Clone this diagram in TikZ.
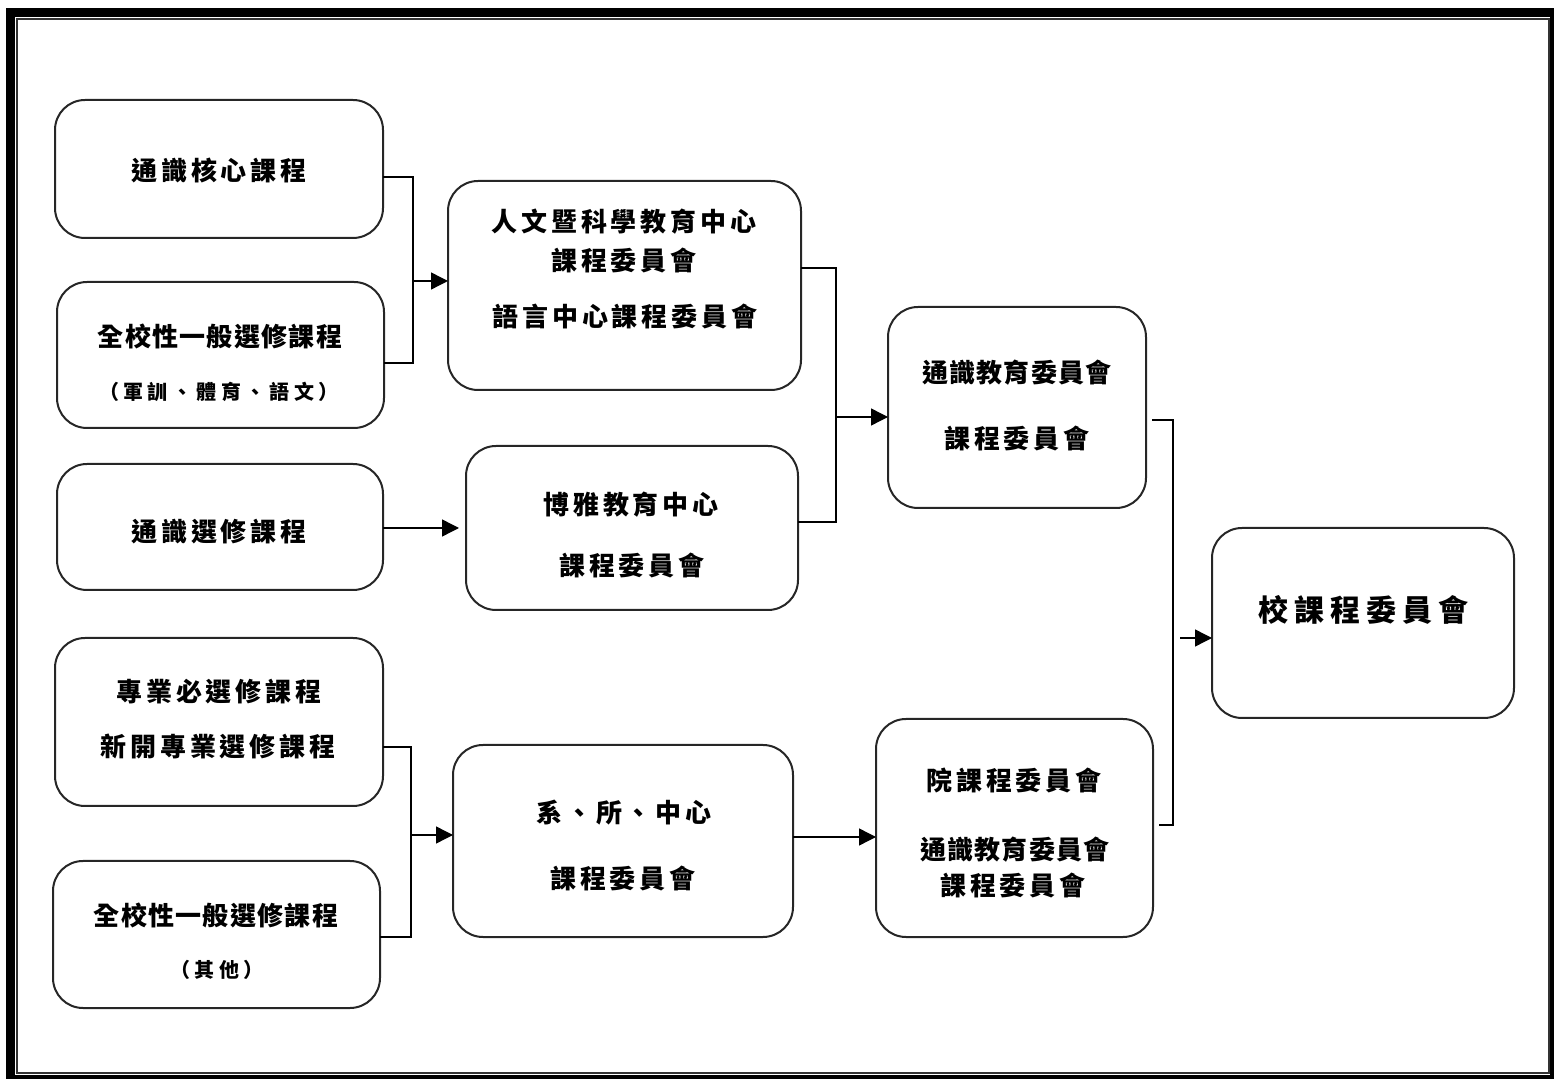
\documentclass[tikz,border=0pt]{standalone}
\usepackage{fontspec}
\newfontfamily\cjk{Noto Sans CJK TC}
\usetikzlibrary{arrows.meta}
\tikzset{
  box/.style={draw=black!85, line width=1pt, rounded corners=15pt, inner sep=0pt, outer sep=0pt},
  txt/.style={inner sep=0pt, font=\cjk\bfseries\fontsize{13}{15}\selectfont\addfontfeature{LetterSpace=15}},
  txtn/.style={inner sep=0pt, font=\cjk\bfseries\fontsize{13}{15}\selectfont\addfontfeature{LetterSpace=5}},
  txts/.style={inner sep=0pt, font=\cjk\bfseries\fontsize{10}{12}\selectfont\addfontfeature{LetterSpace=22}},
  txtb/.style={inner sep=0pt, font=\cjk\bfseries\fontsize{15}{18}\selectfont\addfontfeature{LetterSpace=20}},
  conn/.style={draw=black, line width=0.7pt},
  arr/.style={conn, -{Triangle[length=8.5pt,width=8.5pt]}}
}
\begin{document}
\begin{tikzpicture}[x=0.5pt,y=-0.5pt]
\useasboundingbox (0,0) rectangle (1554,1079);
% frame
\draw[line width=4.5pt] (10.5,13) rectangle (1554.5,1079.5);
\draw[line width=1pt, black!80] (17,19.5) rectangle (1549,1073);
% boxes
\node[box, minimum width=164pt, minimum height=69pt] (A) at (219,169) {};
\node[box, minimum width=163.5pt, minimum height=73pt] (B) at (220.5,355) {};
\node[box, minimum width=163pt, minimum height=63pt] (C) at (220,527) {};
\node[box, minimum width=164pt, minimum height=84pt] (D) at (219,722) {};
\node[box, minimum width=163.5pt, minimum height=73.5pt] (E) at (216.5,934.5) {};
\node[box, minimum width=176.5pt, minimum height=104.5pt] (F) at (624.5,285.5) {};
\node[box, minimum width=166pt, minimum height=82pt] (G) at (632,528) {};
\node[box, minimum width=170pt, minimum height=96pt] (H) at (623,841) {};
\node[box, minimum width=129pt, minimum height=100.5pt] (I) at (1017,407.5) {};
\node[box, minimum width=138.5pt, minimum height=109pt] (J) at (1014.5,828) {};
\node[box, minimum width=151pt, minimum height=95pt] (K) at (1363,623) {};
% texts
\node[txt] (tA1) at (219,170) {通識核心課程};
\node[txtn] (tB1) at (220,336) {全校性一般選修課程};
\node[txts] (tB2) at (219,392) {（軍訓、體育、語文）};
\node[txt] (tC1) at (219,532) {通識選修課程};
\node[txt] (tD1) at (219,692) {專業必選修課程};
\node[txt] (tD2) at (218,746) {新開專業選修課程};
\node[txtn] (tE1) at (216,915) {全校性一般選修課程};
\node[txts] (tE2) at (217,970) {（其他）};
\node[txt] (tF1) at (624,222) {人文暨科學教育中心};
\node[txt] (tF2) at (624,261) {課程委員會};
\node[txt] (tF3) at (625,317) {語言中心課程委員會};
\node[txt] (tG1) at (631,505) {博雅教育中心};
\node[txt] (tG2) at (632,566) {課程委員會};
\node[txt] (tH1) at (624,813) {系、所、中心};
\node[txt] (tH2) at (623,879) {課程委員會};
\node[txtn] (tI1) at (1017,373) {通識教育委員會};
\node[txt] (tI2) at (1017,439) {課程委員會};
\node[txt] (tJ1) at (1014,780) {院課程委員會};
\node[txtn] (tJ2) at (1015,850) {通識教育委員會};
\node[txt] (tJ3) at (1013,886) {課程委員會};
\node[txtb] (tK1) at (1363,610) {校課程委員會};
% junctions
\coordinate (xAB) at (413,281);
\coordinate (xFG) at (836,417);
\coordinate (xDE) at (411,835);
\coordinate (xIJ) at (1173,638);
% connectors
\draw[conn] ([yshift=-4pt]A.east) -| (xAB) |- ([yshift=-4pt]B.east);
\draw[arr] (xAB) -- (xAB -| F.west);
\draw[conn] ([yshift=8.75pt]F.east) -| (xFG) |- ([yshift=3pt]G.east);
\draw[arr] (xFG) -- (xFG -| I.west);
\draw[arr, shorten >=3.5pt] ([yshift=-0.5pt]C.east) -- ([yshift=-0.5pt]C.east -| G.west);
\draw[conn] ([yshift=-12.5pt]D.east) -| (xDE) |- ([yshift=-1.25pt]E.east);
\draw[arr] (xDE) -- (xDE -| H.west);
\draw[arr] ([yshift=2pt]H.east) -- ([yshift=2pt]H.east -| J.west);
\draw[conn] ([xshift=3pt,yshift=-6.25pt]I.east) -| (xIJ) |- ([xshift=3pt,yshift=1.5pt]J.east);
\draw[arr] ([xshift=3.5pt]xIJ) -- (xIJ -| K.west);
\end{tikzpicture}
\end{document}
